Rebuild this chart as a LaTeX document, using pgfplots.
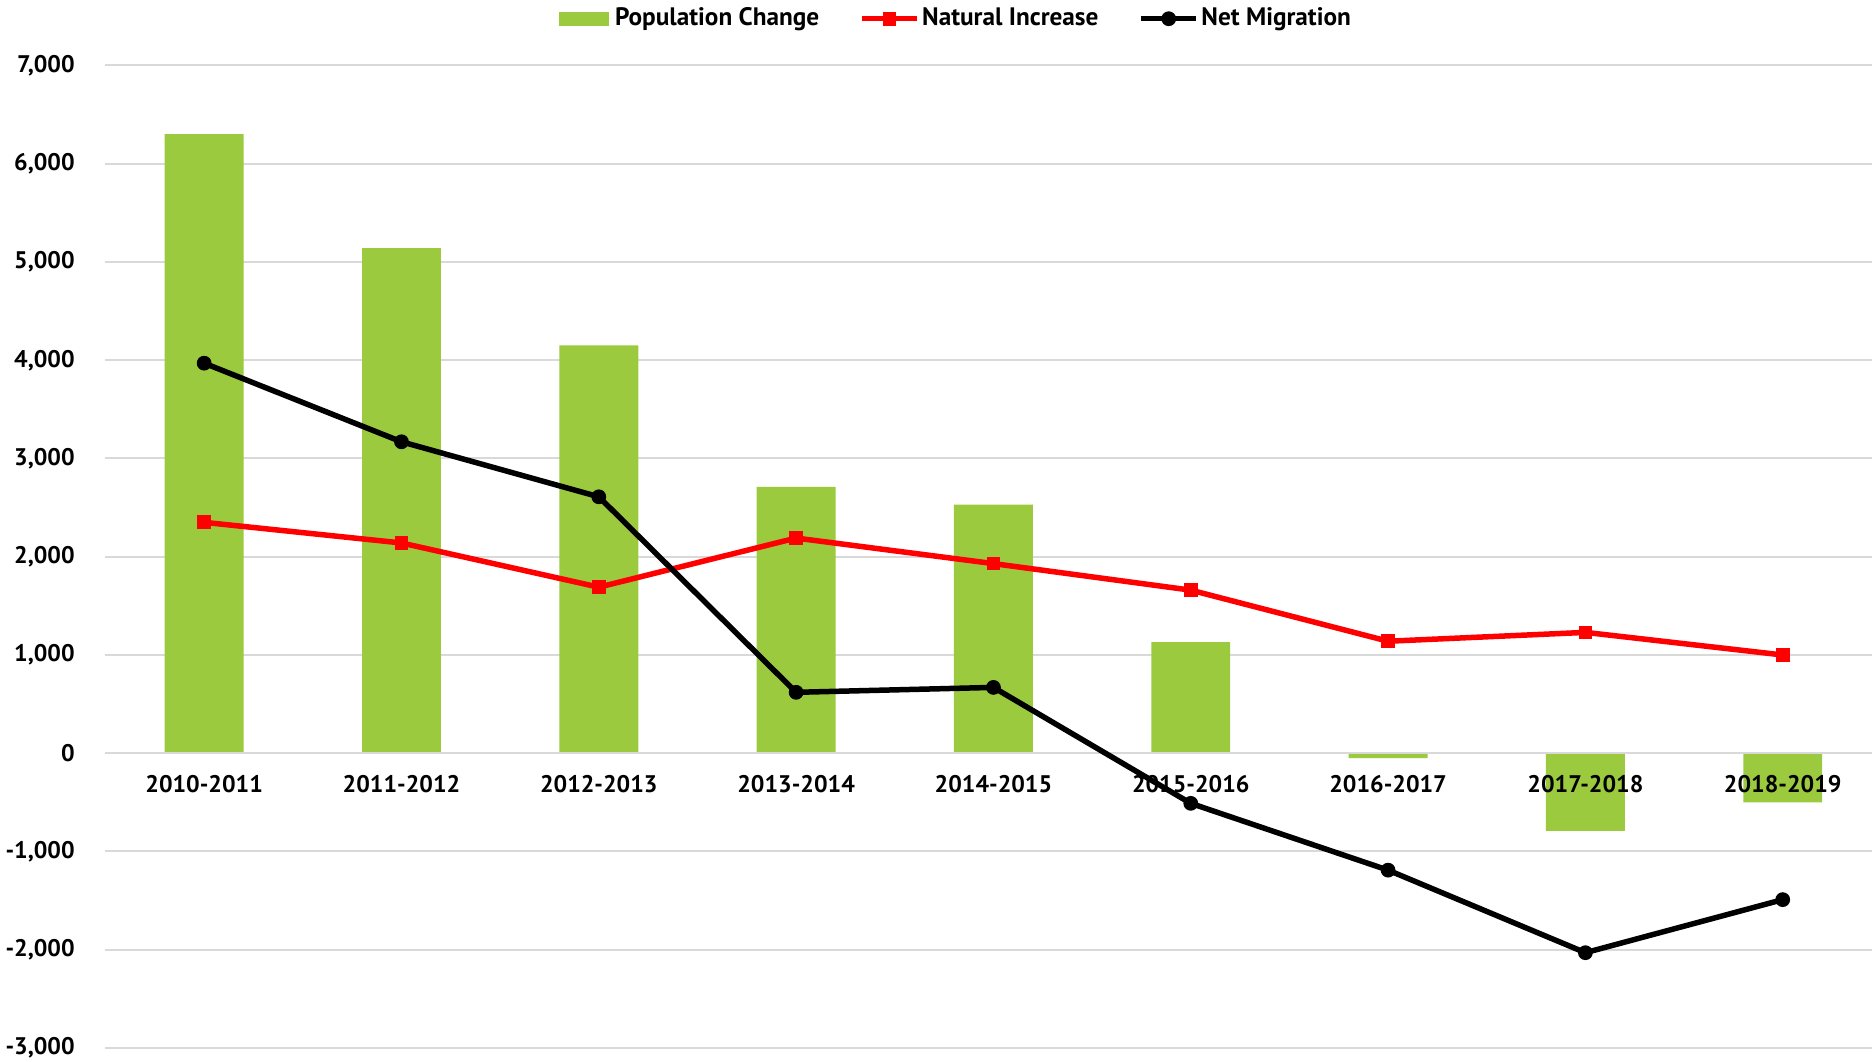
\documentclass[border=0pt]{standalone}
\usepackage{fontspec}
\setmainfont{PT Sans}
\usepackage{pgfplots}
\pgfplotsset{compat=1.18}
\definecolor{popgreen}{HTML}{9BCA3E}
\definecolor{gridgray}{HTML}{D9D9D9}
\newcommand{\lblfont}{\bfseries\fontsize{9.6}{11}\selectfont}
\newcommand{\legfont}{\bfseries\fontsize{10.1}{12}\selectfont}
\pgfplotsset{
  marked line legend/.style={
    legend image code/.code={\draw[##1, mark indices={2}] plot coordinates {(0pt,0pt) (11pt,0pt) (22pt,0pt)};}
  },
  green box legend/.style={
    legend image code/.code={\fill[popgreen] (0pt,-2.85pt) rectangle (20pt,2.85pt); \path (0pt,0pt) -- (21.6pt,0pt);}
  },
}
\begin{document}
\begin{tikzpicture}
\begin{axis}[
  set layers,
  scale only axis,
  width=706.4pt,
  height=393pt,
  xmin=-0.5, xmax=8.45,
  ymin=-3000, ymax=7000,
  ytick={-3000,-2000,...,7000},
  xtick=data,
  xticklabels={2010-2011,2011-2012,2012-2013,2013-2014,2014-2015,2015-2016,2016-2017,2017-2018,2018-2019},
  axis x line=middle,
  axis y line=left,
  hide obscured x ticks=false,
  hide obscured y ticks=false,
  x axis line style={draw=gridgray, line width=0.8pt, -},
  y axis line style={draw=none},
  major tick length=0pt,
  ymajorgrids=true,
  grid style={gridgray, line width=0.8pt},
  tick label style={font=\lblfont},
  xticklabel style={anchor=center, yshift=-12.4pt},
  yticklabel style={anchor=east, xshift=-8.8pt},
  /pgf/number format/assume math mode=true,
  /pgf/number format/1000 sep={,},
  legend columns=3,
  legend style={
    at={(0.4816,1)}, anchor=center, yshift=18.7pt,
    draw=none, fill=none, font=\legfont,
    nodes={inner xsep=1pt},
    /tikz/every even column/.append style={column sep=15pt},
  },
  legend cell align=left,
]
\addplot[on layer=axis ticks, ybar, bar width=0.4, fill=popgreen, draw=none, green box legend]
  coordinates {(0,6300) (1,5140) (2,4150) (3,2710) (4,2530) (5,1130) (6,-50) (7,-790) (8,-500)};
\addlegendentry{Population Change}
\addplot[red, line width=2.2pt, mark=square*, mark size=2.5pt, mark options={line width=0.5pt}, marked line legend]
  coordinates {(0,2350) (1,2140) (2,1690) (3,2190) (4,1930) (5,1660) (6,1140) (7,1230) (8,1000)};
\addlegendentry{Natural Increase}
\addplot[black, line width=2.2pt, mark=*, mark size=2.7pt, mark options={line width=0.5pt}, marked line legend]
  coordinates {(0,3970) (1,3170) (2,2610) (3,620) (4,670) (5,-510) (6,-1190) (7,-2030) (8,-1490)};
\addlegendentry{Net Migration}
\end{axis}
\pgfresetboundingbox
\path[use as bounding box] (-42.2pt,-5.6pt) rectangle (706.6pt,419.2pt);
\end{tikzpicture}
\end{document}
